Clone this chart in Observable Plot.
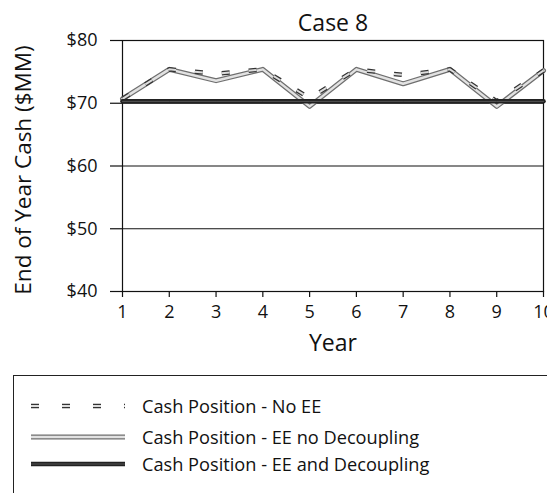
<!DOCTYPE html>
<html>
<head>
<meta charset="utf-8">
<script src="https://cdn.jsdelivr.net/npm/d3@7"></script>
<script src="https://cdn.jsdelivr.net/npm/@observablehq/plot@0.6"></script>
<style>
  html, body { margin: 0; padding: 0; background: #fff; overflow: hidden; width: 547px; height: 493px; }
  body { font-family: "Open Sans", sans-serif; color: #111; position: relative; }
  #chart { position: absolute; left: 0; top: 0; }
  #legend { position: absolute; left: 13px; top: 375px; width: 600px; height: 200px;
            border-top: 1px solid #222; border-left: 1px solid #222; }
  .row { position: absolute; left: 0; height: 20px; display: flex; align-items: center; }
  .row svg { position: absolute; left: 17px; top: 0; }
  .row span { position: absolute; left: 128px; white-space: nowrap; font-size: 18.2px; line-height: 20px; }
</style>
</head>
<body>
<div id="chart"></div>
<div id="legend"></div>
<script>
const title = "Case 8";
const xLabel = "Year";
const yLabel = "End of Year Cash ($MM)";
const years = [1, 2, 3, 4, 5, 6, 7, 8, 9, 10];
const yTicks = [40, 50, 60, 70, 80];
const seriesNames = ["Cash Position - No EE", "Cash Position - EE no Decoupling", "Cash Position - EE and Decoupling"];
const noEE = [70.7, 75.4, 74.7, 75.4, 70.8, 75.4, 74.5, 75.4, 70.3, 75.2];
const eeNoDecoupling = [70.7, 75.4, 73.6, 75.4, 69.5, 75.4, 73.1, 75.4, 69.5, 75.2];
const eeDecoupling = [70.3, 70.3, 70.3, 70.3, 70.3, 70.3, 70.3, 70.3, 70.3, 70.3];

const toRows = (vals) => years.map((y, i) => ({year: y, value: vals[i]}));

const chart = Plot.plot({
  width: 547,
  height: 360,
  marginLeft: 122,
  marginRight: 4,
  marginTop: 40,
  marginBottom: 69,
  style: {fontFamily: "Open Sans, sans-serif", fontSize: "18px", color: "#111", background: "#fff", overflow: "visible"},
  x: {domain: [1, 10], ticks: years, axis: null},
  y: {domain: [40, 80], ticks: yTicks, axis: null},
  marks: [
    Plot.gridY(yTicks, {stroke: "#111", strokeOpacity: 1, strokeWidth: 1.2}),
    Plot.axisY(yTicks, {tickSize: 12, tickPadding: 13, tickFormat: d => "$" + d, stroke: "#111", strokeWidth: 1.2, fontSize: 18, label: null}),
    Plot.axisX(years, {tickSize: 6, tickPadding: 8, tickFormat: d => String(d), stroke: "#111", strokeWidth: 1.2, fontSize: 18, label: null}),
    Plot.frame({stroke: "#111", strokeWidth: 1.2}),
    Plot.line(toRows(eeNoDecoupling), {x: "year", y: "value", stroke: "#6f6f6f", strokeWidth: 5}),
    Plot.line(toRows(eeNoDecoupling), {x: "year", y: "value", stroke: "#e2e2e2", strokeWidth: 2.5}),
    Plot.line(toRows(noEE), {x: "year", y: "value", stroke: "#333", strokeWidth: 4.5, strokeDasharray: "8,19", strokeLinecap: "butt"}),
    Plot.line(toRows(noEE), {x: "year", y: "value", stroke: "#ddd", strokeWidth: 2, strokeDasharray: "8,19", strokeLinecap: "butt"}),
    Plot.line(toRows(eeDecoupling), {x: "year", y: "value", stroke: "#222", strokeWidth: 4.5}),
    Plot.line(toRows(eeDecoupling), {x: "year", y: "value", stroke: "#555", strokeWidth: 1}),
    Plot.text([title], {frameAnchor: "top", lineAnchor: "middle", dy: -17, fontSize: 23, fill: "#111"}),
    Plot.text([xLabel], {frameAnchor: "bottom", lineAnchor: "middle", dy: 52, fontSize: 23, fill: "#111"}),
    Plot.text([yLabel], {frameAnchor: "left", textAnchor: "middle", lineAnchor: "middle", dx: -99, dy: 4, rotate: -90, fontSize: 22.5, fill: "#111"})
  ]
});
document.getElementById("chart").appendChild(chart);

// Legend
const legend = d3.select("#legend");
const rowTops = [20, 51, 78];
const swatchStyles = [
  [{stroke: "#333", w: 4.5, dash: "8,23"}, {stroke: "#ddd", w: 2, dash: "8,23"}],
  [{stroke: "#6f6f6f", w: 5, dash: null}, {stroke: "#e2e2e2", w: 2.5, dash: null}],
  [{stroke: "#222", w: 4.5, dash: null}, {stroke: "#555", w: 1, dash: null}]
];
seriesNames.forEach((name, i) => {
  const row = legend.append("div").attr("class", "row").style("top", rowTops[i] + "px");
  const svg = row.append("svg").attr("width", 96).attr("height", 20);
  swatchStyles[i].forEach(s => {
    svg.append("line").attr("x1", 0).attr("x2", 94).attr("y1", 10).attr("y2", 10)
      .attr("stroke", s.stroke).attr("stroke-width", s.w)
      .attr("stroke-dasharray", s.dash);
  });
  row.append("span").text(name);
});
</script>
</body>
</html>
